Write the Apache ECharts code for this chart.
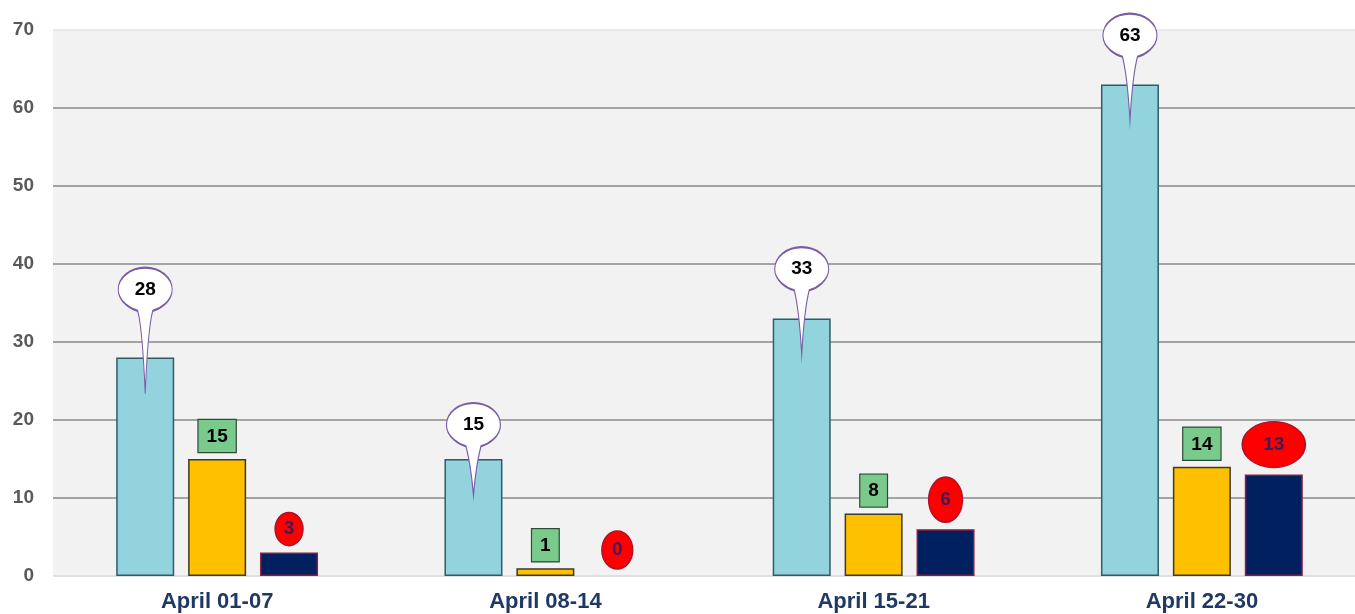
<!DOCTYPE html>
<html>
<head>
<meta charset="utf-8">
<script src="https://cdn.jsdelivr.net/npm/echarts@6/dist/echarts.min.js"></script>
<style>
html,body{margin:0;padding:0;background:#ffffff;}
#chart{width:1355px;height:614px;}
</style>
</head>
<body>
<div id="chart"></div>
<script>
// ---- data ----
var categories = ['April 01-07', 'April 08-14', 'April 15-21', 'April 22-30'];
var seriesA = [28, 15, 33, 63];   // light blue bars
var seriesB = [15, 1, 8, 14];     // yellow bars
var seriesC = [3, 0, 6, 13];      // navy bars
var yTicks = [0, 10, 20, 30, 40, 50, 60, 70];

// ---- styling (callout geometry) ----
var bubbleRise = [68, 34, 49.5, 49];          // ellipse centre above bar top (px)
var tipDepth = 36;                            // tail tip below bar top (px)
var redSizes = [[28, 33], [31, 38], [34, 45], [63, 46]];

var FONT = '"Liberation Sans", Arial, sans-serif';

function bubblePath(rise) {
  var tip = rise + tipDepth;
  return 'path://M7.5 21.2 C14.5 19.3 27 12 27 0 C27 -12.15 14.9 -22 0 -22 ' +
    'C-14.9 -22 -27 -12.15 -27 0 C-27 12 -14.5 19.3 -7.5 21.2 ' +
    'Q-2.6 40 0 ' + tip + ' Q2.6 40 7.5 21.2 Z';
}
var ellipsePath = 'path://M0 -1 C0.5523 -1 1 -0.5523 1 0 C1 0.5523 0.5523 1 0 1 C-0.5523 1 -1 0.5523 -1 0 C-1 -0.5523 -0.5523 -1 0 -1 Z';

var bubbleData = seriesA.map(function (v, i) {
  var r = bubbleRise[i];
  var h = 22 + r + tipDepth;
  return {
    coord: [i, v], value: v,
    symbol: bubblePath(r),
    symbolSize: [54, h],
    symbolOffset: [0, (tipDepth - r - 22) / 2],
    label: { offset: [0, -(r + tipDepth - 22) / 2] }
  };
});
var redData = seriesC.map(function (v, i) {
  var s = redSizes[i];
  return {
    coord: [i, v], value: v,
    symbol: ellipsePath,
    symbolSize: s,
    symbolOffset: [0, -(7 + s[1] / 2)]
  };
});
function barItems(arr) {
  return arr.map(function (v) {
    return v === 0 ? { value: v, itemStyle: { borderWidth: 0 } } : v;
  });
}

var chart = echarts.init(document.getElementById('chart'), null, { renderer: 'canvas' });
chart.setOption({
  animation: false,
  backgroundColor: '#ffffff',
  grid: {
    left: 53, width: 1313, top: 30, bottom: 38,
    outerBoundsMode: 'none', containLabel: false,
    show: true, backgroundColor: '#f2f2f2', borderWidth: 0
  },
  xAxis: {
    type: 'category',
    data: categories,
    axisLine: { show: false },
    axisTick: { show: false },
    axisLabel: {
      color: '#1f3864', fontFamily: FONT, fontWeight: 'bold', fontSize: 22, margin: 15
    }
  },
  yAxis: {
    type: 'value',
    min: yTicks[0], max: yTicks[yTicks.length - 1], interval: 10,
    axisLine: { show: false },
    axisTick: { show: false },
    axisLabel: {
      color: '#595959', fontFamily: FONT, fontWeight: 'bold', fontSize: 19, margin: 19
    },
    splitLine: {
      show: true,
      lineStyle: {
        color: ['#d9d9d9', '#8a8a8a', '#8a8a8a', '#8a8a8a', '#8a8a8a', '#8a8a8a', '#8a8a8a', '#e4e4e4'],
        width: 1.5
      }
    }
  },
  series: [
    {
      type: 'bar', data: barItems(seriesA), barWidth: 58, barGap: '24%',
      itemStyle: { color: '#93d3dd', borderColor: '#2f5b6b', borderWidth: 1.5 },
      markPoint: {
        data: bubbleData,
        itemStyle: { color: '#ffffff', borderColor: '#7a5ca6', borderWidth: 1.5 },
        label: {
          show: true, position: 'inside', color: '#000000',
          fontFamily: FONT, fontWeight: 'bold', fontSize: 19
        }
      }
    },
    {
      type: 'bar', data: barItems(seriesB), barWidth: 58, barGap: '24%',
      itemStyle: { color: '#ffc000', borderColor: '#3d3a2a', borderWidth: 1.5 },
      label: {
        show: true, position: 'top', distance: 7,
        color: '#000000', fontFamily: FONT, fontWeight: 'bold', fontSize: 19, lineHeight: 19,
        backgroundColor: '#7aca8c', borderColor: '#2e4a38', borderWidth: 1.2, padding: [7, 8, 6, 8]
      }
    },
    {
      type: 'bar', data: barItems(seriesC), barWidth: 58, barGap: '24%',
      itemStyle: { color: '#002060', borderColor: '#8b1c3c', borderWidth: 1.5 },
      markPoint: {
        data: redData,
        itemStyle: { color: '#ff0000', borderColor: '#b0102a', borderWidth: 1.5 },
        label: {
          show: true, position: 'inside', color: '#3b1c5a',
          fontFamily: FONT, fontWeight: 'bold', fontSize: 19
        }
      }
    }
  ]
});
</script>
</body>
</html>
